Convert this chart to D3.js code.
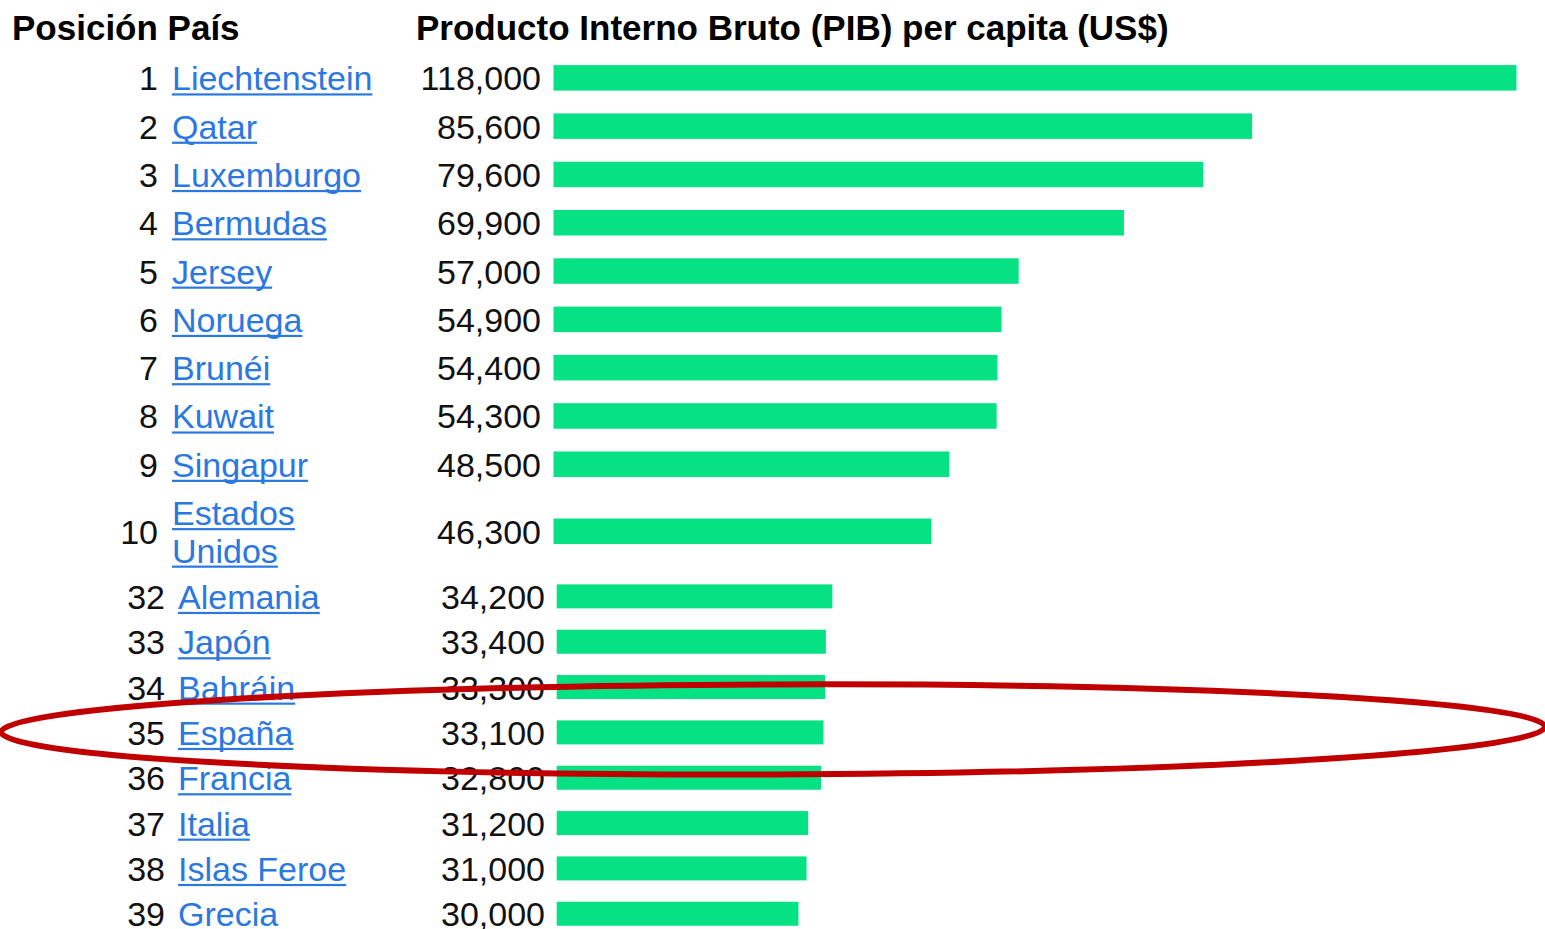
<!DOCTYPE html>
<html>
<head>
<meta charset="utf-8">
<script src="https://cdn.jsdelivr.net/npm/d3@7"></script>
<style>
  html, body { margin: 0; padding: 0; background: #fff; }
  svg { display: block; }
  text { font-family: "Liberation Sans", Arial, sans-serif; }
</style>
</head>
<body>
<svg id="chart" width="1545" height="929"></svg>
<script>
// ---- data ----
const headers = ["Posición País", "Producto Interno Bruto (PIB) per capita (US$)"];
const ranksTop = [1, 2, 3, 4, 5, 6, 7, 8, 9, 10];
const countriesTop = ["Liechtenstein", "Qatar", "Luxemburgo", "Bermudas", "Jersey", "Noruega", "Brunéi", "Kuwait", "Singapur", "Estados\nUnidos"];
const gdpTop = [118000, 85600, 79600, 69900, 57000, 54900, 54400, 54300, 48500, 46300];
const ranksBottom = [32, 33, 34, 35, 36, 37, 38, 39];
const countriesBottom = ["Alemania", "Japón", "Bahráin", "España", "Francia", "Italia", "Islas Feroe", "Grecia"];
const gdpBottom = [34200, 33400, 33300, 33100, 32800, 31200, 31000, 30000];
const highlighted = "España";

// ---- layout ----
const svg = d3.select("#chart");
const fmt = d3.format(",");
const linkColor = "#2a78e0";
const barColor = "#06e283";

svg.append("text").attr("x", 12).attr("y", 40)
  .attr("font-size", 35).attr("font-weight", "bold").attr("fill", "#000")
  .text(headers[0]);
svg.append("text").attr("x", 416).attr("y", 40)
  .attr("font-size", 35).attr("font-weight", "bold").attr("fill", "#000")
  .text(headers[1]);

function drawTable(cfg) {
  const rows = cfg.ranks.map((r, i) => ({
    rank: r, name: cfg.names[i], value: cfg.values[i],
    lines: cfg.names[i].split("\n")
  }));
  // cumulative row positions from row heights
  let acc = cfg.top;
  rows.forEach(d => {
    const h = cfg.rowH + (d.lines.length - 1) * cfg.lineH;
    d.y0 = acc; d.h = h; d.cy = acc + h / 2; acc += h;
  });
  const x = d3.scaleLinear().domain([0, 118000]).range([cfg.barX, cfg.barX + cfg.barW]);
  const g = svg.append("g");
  const row = g.selectAll("g.row").data(rows).join("g").attr("class", "row");

  row.append("rect")
    .attr("x", x(0))
    .attr("y", d => d.cy - cfg.barH / 2)
    .attr("width", d => x(d.value) - x(0))
    .attr("height", cfg.barH)
    .attr("fill", barColor);

  row.append("text")
    .attr("x", cfg.rankX).attr("y", d => d.cy + cfg.base)
    .attr("text-anchor", "end").attr("font-size", 34).attr("fill", "#111")
    .text(d => d.rank);

  row.append("text")
    .attr("x", cfg.valX).attr("y", d => d.cy + cfg.base)
    .attr("text-anchor", "end").attr("font-size", 34).attr("fill", "#111")
    .text(d => fmt(d.value));

  row.each(function(d) {
    const sel = d3.select(this);
    const n = d.lines.length;
    d.lines.forEach((ln, k) => {
      const by = d.cy + cfg.base + (k - (n - 1) / 2) * cfg.lineH;
      const t = sel.append("text")
        .attr("x", cfg.nameX).attr("y", by)
        .attr("font-size", 34).attr("fill", linkColor)
        .text(ln);
      const w = t.node().getComputedTextLength();
      sel.append("rect")
        .attr("x", cfg.nameX).attr("y", by + 3)
        .attr("width", w).attr("height", 2.2)
        .attr("fill", linkColor);
    });
  });
  return rows;
}

drawTable({
  ranks: ranksTop, names: countriesTop, values: gdpTop,
  top: 53.7, rowH: 48.3, lineH: 37.5, barH: 25.5,
  barX: 553.5, barW: 963, rankX: 158, nameX: 172, valX: 541, base: 12.5
});

const bottomRows = drawTable({
  ranks: ranksBottom, names: countriesBottom, values: gdpBottom,
  top: 573.7, rowH: 45.34, lineH: 37.5, barH: 24,
  barX: 556.7, barW: 951, rankX: 165, nameX: 178, valX: 545, base: 12.5
});

// highlight ellipse around the selected country row
const hl = bottomRows.find(d => d.name === highlighted);
svg.append("ellipse")
  .attr("cx", 773).attr("cy", hl.cy - 3)
  .attr("rx", 772).attr("ry", 45)
  .attr("transform", `rotate(-0.2, 773, ${hl.cy - 3})`)
  .attr("fill", "none").attr("stroke", "#c00000").attr("stroke-width", 6);
</script>
</body>
</html>
